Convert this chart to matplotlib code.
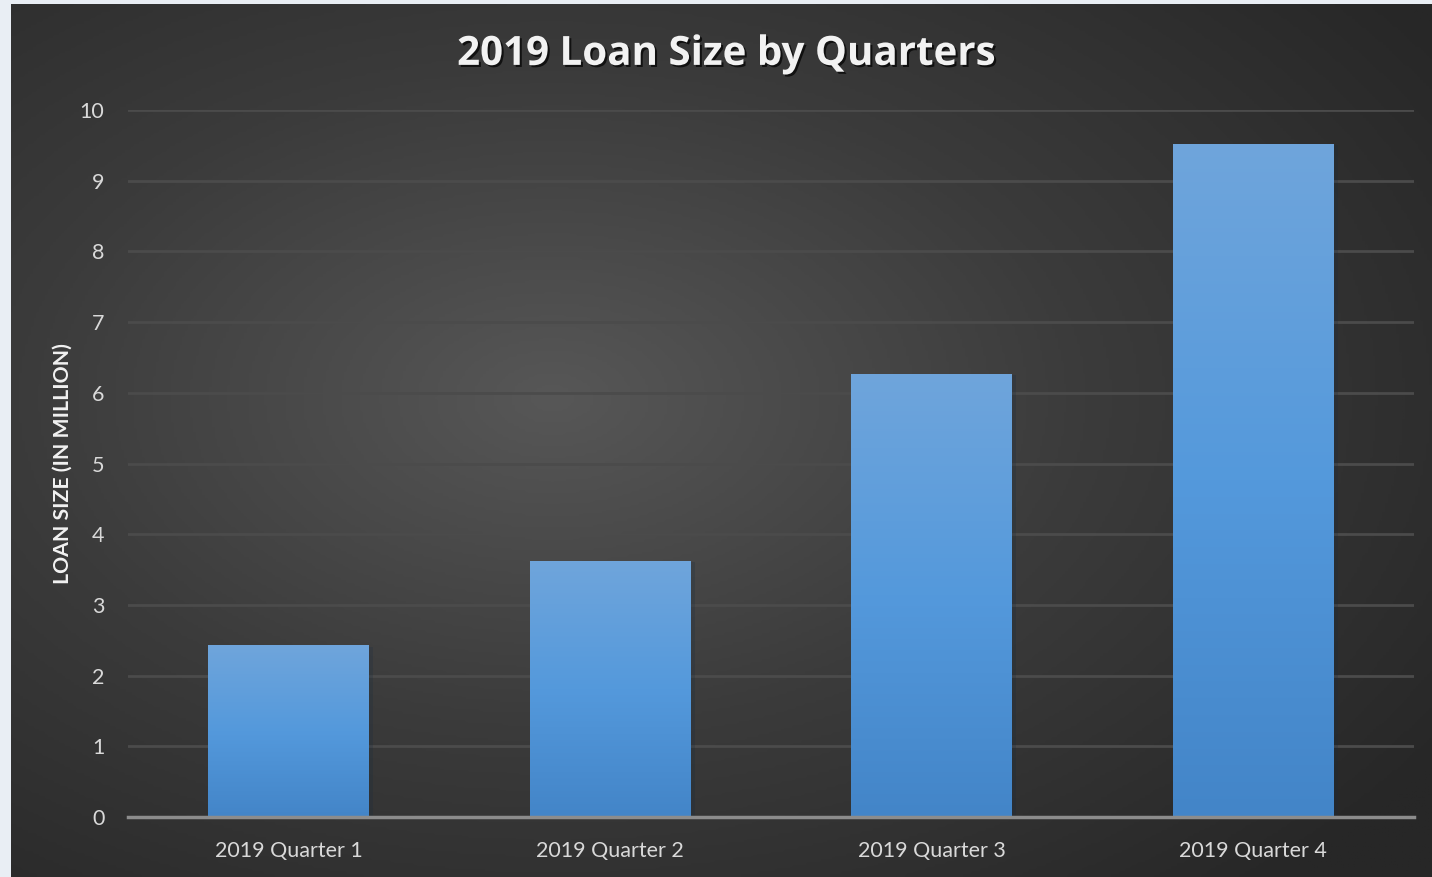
import numpy as np
import matplotlib
matplotlib.use("Agg")
import matplotlib.pyplot as plt
import matplotlib.patheffects as pe
from matplotlib.colors import LinearSegmentedColormap

quarters = ["2019 Quarter 1", "2019 Quarter 2", "2019 Quarter 3", "2019 Quarter 4"]
loan_size = [2.43, 3.62, 6.27, 9.52]
yticks = [0, 1, 2, 3, 4, 5, 6, 7, 8, 9, 10]

plt.rcParams["font.family"] = ["Lato", "DejaVu Sans"]

fig = plt.figure(figsize=(14.32, 8.77), dpi=100)
fig.patch.set_facecolor("#e9eef4")

# fundo escuro com gradiente radial
bg = fig.add_axes([11 / 1432, 0, 1 - 11 / 1432, 1 - 4 / 877])
bg.set_axis_off()
h, w = 300, 500
yy, xx = np.mgrid[0:h, 0:w]
cx, cy = 0.38 * w, 0.45 * h
d = np.sqrt(((xx - cx) / (0.75 * w)) ** 2 + ((yy - cy) / (0.75 * h)) ** 2)
d = np.clip(d, 0, 1)
cmap_bg = LinearSegmentedColormap.from_list("bg", ["#575757", "#3b3b3b", "#272727"])
bg.imshow(d, cmap=cmap_bg, aspect="auto", extent=[0, 1, 0, 1], vmin=0, vmax=1)
bg.set_xlim(0, 1)
bg.set_ylim(0, 1)

ax = fig.add_axes([128 / 1432, 1 - 817 / 877, (1414 - 128) / 1432, (817 - 110) / 877])
ax.patch.set_alpha(0)

x = np.arange(len(quarters))
bars = ax.bar(x, loan_size, width=0.5, color="#4a8fd3", zorder=3,
              path_effects=[pe.SimplePatchShadow(offset=(3, -1), alpha=0.22), pe.Normal()])

cmap_bar = LinearSegmentedColormap.from_list("bar", ["#4385c8", "#5499dc", "#6fa5db"])
grad = np.linspace(0, 1, 256).reshape(-1, 1)
for b in bars:
    bx, by = b.get_x(), b.get_y()
    bw, bh = b.get_width(), b.get_height()
    im = ax.imshow(grad, cmap=cmap_bar, origin="lower", aspect="auto",
                   extent=[bx, bx + bw, by, by + bh], zorder=4)
    im.set_clip_path(b)

ax.set_xlim(-0.5, len(quarters) - 0.5)
ax.set_ylim(0, 10)
ax.set_yticks(yticks)
ax.set_xticks(x)
ax.set_xticklabels(quarters)
ax.tick_params(axis="both", length=0, colors="#d9d9d9", labelsize=15.5)
ax.tick_params(axis="x", pad=17)
ax.tick_params(axis="y", pad=17)

ax.grid(axis="y", color="#4b4b4b", linewidth=2, zorder=1)
for s in ["top", "right", "left"]:
    ax.spines[s].set_visible(False)
ax.spines["bottom"].set_color("#8c8c8c")
ax.spines["bottom"].set_linewidth(2.5)
ax.spines["bottom"].set_zorder(5)

ax.set_ylabel("LOAN SIZE (IN MILLION)", color="#f2f2f2", fontsize=15.3,
              fontweight="bold")
ax.yaxis.set_label_coords(-0.043, 0.5)

fig.text(0.507, 0.938, "2019 Loan Size by Quarters", color="#f2f2f2",
         fontsize=29, fontweight="bold", ha="center", va="center",
         family=["Open Sans", "DejaVu Sans"],
         path_effects=[pe.withSimplePatchShadow(offset=(1.5, -1.5), shadow_rgbFace="black", alpha=0.7)])

plt.savefig("out.png", dpi=100, facecolor=fig.get_facecolor())
plt.close()
